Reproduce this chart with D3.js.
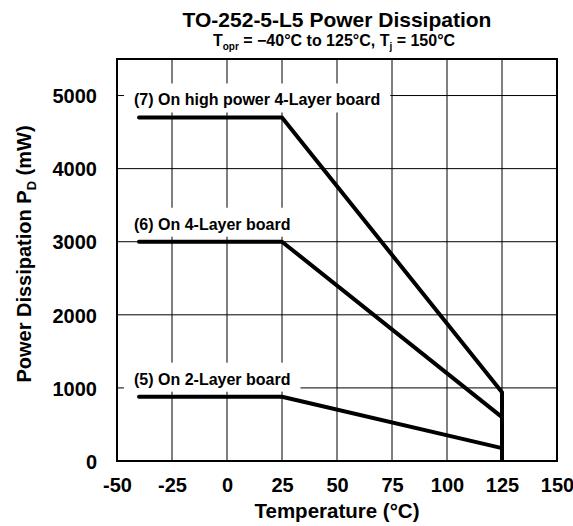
<!DOCTYPE html>
<html><head><meta charset="utf-8">
<script src="https://cdn.jsdelivr.net/npm/d3@7"></script>
<style>body{margin:0;background:#fff}svg{display:block}text{font-family:"Liberation Sans",Arial,sans-serif;font-weight:bold;fill:#000}</style>
</head><body><svg id="c" width="573" height="526"></svg>
<script>
const xTicks = [-50,-25,0,25,50,75,100,125,150];
const yTicks = [0,1000,2000,3000,4000,5000];
const seriesNames = ["(7) On high power 4-Layer board","(6) On 4-Layer board","(5) On 2-Layer board"];
const seriesTemps = [-40,25,125];
const series7 = [4700,4700,940];
const series6 = [3000,3000,600];
const series5 = [880,880,176];
const cutoffTemp = 125;

const W=573,H=526,m={l:117,r:16,t:59,b:65};
const svg=d3.select("#c");
const x=d3.scaleLinear().domain([-50,150]).range([m.l,W-m.r]);
const y=d3.scaleLinear().domain([0,5500]).range([H-m.b,m.t]);

// grid
svg.append("g").selectAll("line").data(xTicks.slice(1,-1)).join("line")
 .attr("x1",d=>x(d)).attr("x2",d=>x(d)).attr("y1",y(0)).attr("y2",y(5500))
 .attr("stroke","#000").attr("stroke-width",1);
svg.append("g").selectAll("line").data(yTicks.slice(1)).join("line")
 .attr("x1",x(-50)).attr("x2",x(150)).attr("y1",d=>y(d)).attr("y2",d=>y(d))
 .attr("stroke","#000").attr("stroke-width",1);

// axes labels via d3 axes
const gx=svg.append("g").attr("transform",`translate(0,${y(0)})`)
 .call(d3.axisBottom(x).tickValues(xTicks).tickFormat(d=>String(d)).tickSize(0).tickPadding(17));
const gy=svg.append("g").attr("transform",`translate(${x(-50)},0)`)
 .call(d3.axisLeft(y).tickValues(yTicks).tickFormat(d=>String(d)).tickSize(0).tickPadding(20));
[gx,gy].forEach(g=>{g.select(".domain").remove();g.selectAll("text").style("font-size","20px").style("font-family","'Liberation Sans',Arial,sans-serif").style("font-weight","bold").attr("fill","#000");});
gy.selectAll("text").attr("dy","0.36em");

const all=[series7,series6,series5];
const line=d3.line().x((d,i)=>x(seriesTemps[i])).y(d=>y(d));

// labels with white boxes
const lg=svg.append("g");
all.forEach((s,k)=>{
  const g=lg.append("g");
  const t=g.append("text").attr("x",x(seriesTemps[0])-5).attr("y",y(s[0])-12)
   .style("font-size","16px").text(seriesNames[k]);
  const b=t.node().getBBox();
  g.insert("rect","text").attr("x",b.x-10).attr("y",b.y-8).attr("width",b.width+20).attr("height",b.height+12).attr("fill","#fff");
});

// frame
svg.append("rect").attr("x",x(-50)).attr("y",y(5500)).attr("width",x(150)-x(-50)).attr("height",y(0)-y(5500))
 .attr("fill","none").attr("stroke","#000").attr("stroke-width",2);

// series
all.forEach(s=>{
  svg.append("path").attr("d",line(s)).attr("fill","none").attr("stroke","#000")
   .attr("stroke-width",4).attr("stroke-linecap","round").attr("stroke-linejoin","round");
});
svg.append("line").attr("x1",x(cutoffTemp)).attr("x2",x(cutoffTemp)).attr("y1",y(0)).attr("y2",y(d3.max(all,s=>s[2])))
 .attr("stroke","#000").attr("stroke-width",4);

// titles
svg.append("text").attr("x",337).attr("y",27).attr("text-anchor","middle").style("font-size","21px").text("TO-252-5-L5 Power Dissipation");
const st=svg.append("text").attr("x",334).attr("y",46).attr("text-anchor","middle").style("font-size","16px");
st.append("tspan").text("T");
st.append("tspan").attr("dy",4).style("font-size","10px").text("opr");
st.append("tspan").attr("dy",-4).text(" = \u221240\u00B0C to 125\u00B0C, T");
st.append("tspan").attr("dy",4).style("font-size","10px").text("j");
st.append("tspan").attr("dy",-4).text(" = 150\u00B0C");

svg.append("text").attr("x",337).attr("y",518).attr("text-anchor","middle").style("font-size","20.5px").text("Temperature (\u00B0C)");
const yl=svg.append("text").attr("transform",`translate(31,254) rotate(-90)`).attr("text-anchor","middle").style("font-size","20px");
yl.append("tspan").text("Power Dissipation P");
yl.append("tspan").attr("dy",5).style("font-size","13px").text("D");
yl.append("tspan").attr("dy",-5).text(" (mW)");
</script></body></html>
